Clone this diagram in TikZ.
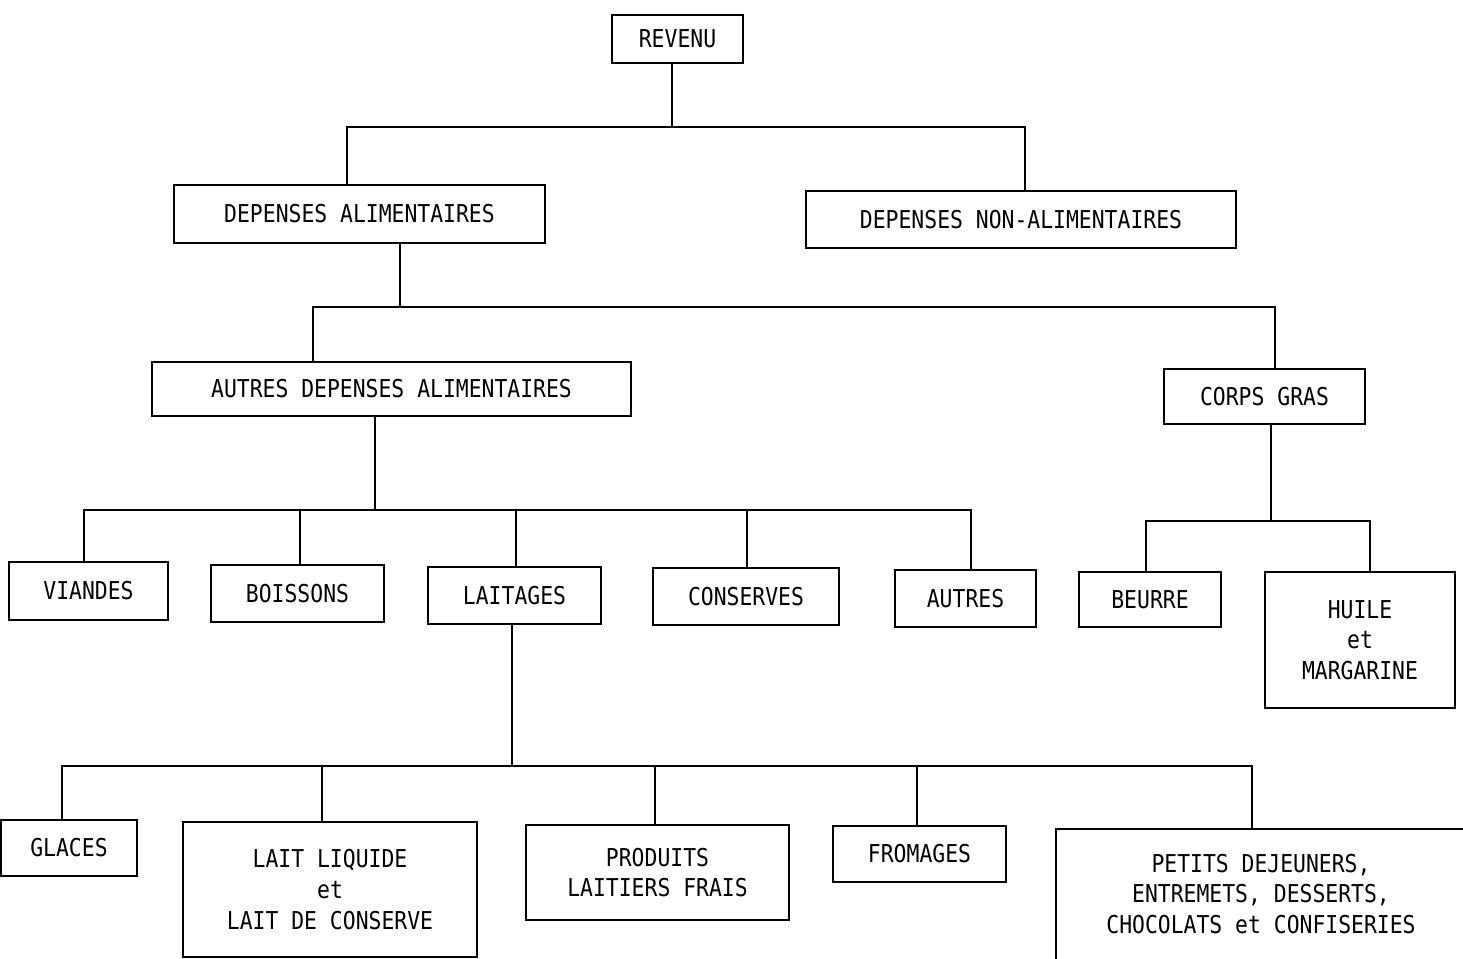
\documentclass[tikz,border=0pt]{standalone}
\usepackage{fontspec}
\newfontfamily\plotfont[FakeStretch=0.87]{DejaVu Sans Mono}
\begin{document}
\begin{tikzpicture}[x=0.02cm, y=-0.02cm, line width=0.8pt,
  every node/.style={font=\plotfont\fontsize{14}{17.5}\selectfont},
  box/.style={draw, inner sep=0pt, align=center}]
  \useasboundingbox (0,0) rectangle (1463,959);
  \clip (0,0) rectangle (1463,959);
  % top level
  \node[box,minimum width=2.62cm,minimum height=0.96cm] (rev) at (677.5,39) {REVENU};
  \node[box,minimum width=7.42cm,minimum height=1.16cm] (depal) at (359.5,214) {DEPENSES ALIMENTAIRES};
  \node[box,minimum width=8.60cm,minimum height=1.14cm] (depnon) at (1021,219.5) {DEPENSES NON-ALIMENTAIRES};
  % food expenses
  \node[box,minimum width=9.58cm,minimum height=1.08cm] (autdep) at (391.5,389) {AUTRES DEPENSES ALIMENTAIRES};
  \node[box,minimum width=4.02cm,minimum height=1.10cm] (corps) at (1264.5,396.5) {CORPS GRAS};
  % other food groups
  \node[box,minimum width=3.18cm,minimum height=1.16cm] (viandes) at (88.5,591) {VIANDES};
  \node[box,minimum width=3.46cm,minimum height=1.14cm] (boissons) at (297.5,593.5) {BOISSONS};
  \node[box,minimum width=3.46cm,minimum height=1.14cm] (laitages) at (514.5,595.5) {LAITAGES};
  \node[box,minimum width=3.72cm,minimum height=1.14cm] (conserves) at (746,596.5) {CONSERVES};
  \node[box,minimum width=2.82cm,minimum height=1.14cm] (autres) at (965.5,598.5) {AUTRES};
  % fats
  \node[box,minimum width=2.84cm,minimum height=1.10cm] (beurre) at (1150,599.5) {BEURRE};
  \node[box,minimum width=3.80cm,minimum height=2.72cm] (huile) at (1360,640) {HUILE\\et\\MARGARINE};
  % dairy products
  \node[box,minimum width=2.72cm,minimum height=1.12cm] (glaces) at (69,848) {GLACES};
  \node[box,minimum width=5.88cm,minimum height=2.70cm] (laitliq) at (330,889.5) {LAIT LIQUIDE\\et\\LAIT DE CONSERVE};
  \node[box,minimum width=5.26cm,minimum height=1.90cm] (produits) at (657.5,872.5) {PRODUITS\\LAITIERS FRAIS};
  \node[box,minimum width=3.46cm,minimum height=1.12cm] (fromages) at (919.5,854) {FROMAGES};
  % last box runs off the page
  \node[box,minimum width=8.24cm,minimum height=2.84cm] (petits) at (1262,900) {};
  \node[align=center] (petitstxt) at (1261,894) {PETITS DEJEUNERS,\\ENTREMETS, DESSERTS,\\CHOCOLATS et CONFISERIES};
  % connectors
  \coordinate (j1) at (672,127);
  \draw (rev.south -| j1) -- (j1);
  \draw (depal.north -| 347,0) |- (j1) -| (depnon.north -| 1025,0);
  \coordinate (j2) at (400,307);
  \draw (depal.south -| j2) -- (j2);
  \draw (autdep.north -| 313,0) |- (j2) -| (corps.north -| 1275,0);
  \coordinate (j3) at (375,510);
  \draw (autdep.south -| j3) -- (j3);
  \draw (viandes.north -| 84,0) |- (j3) -| (autres.north -| 971,0);
  \foreach \n/\x in {boissons/300, laitages/516, conserves/747}
    \draw (\n.north -| \x,0) -- (j3 -| \x,0);
  \coordinate (j4) at (1271,521);
  \draw (corps.south -| j4) -- (j4);
  \draw (beurre.north -| 1146,0) |- (j4) -| (huile.north -| 1370,0);
  \coordinate (j5) at (512,766);
  \draw (laitages.south -| j5) -- (j5);
  \draw (glaces.north -| 62,0) |- (j5) -| (petits.north -| 1252,0);
  \foreach \n/\x in {laitliq/322, produits/655, fromages/917}
    \draw (\n.north -| \x,0) -- (j5 -| \x,0);
\end{tikzpicture}
\end{document}
